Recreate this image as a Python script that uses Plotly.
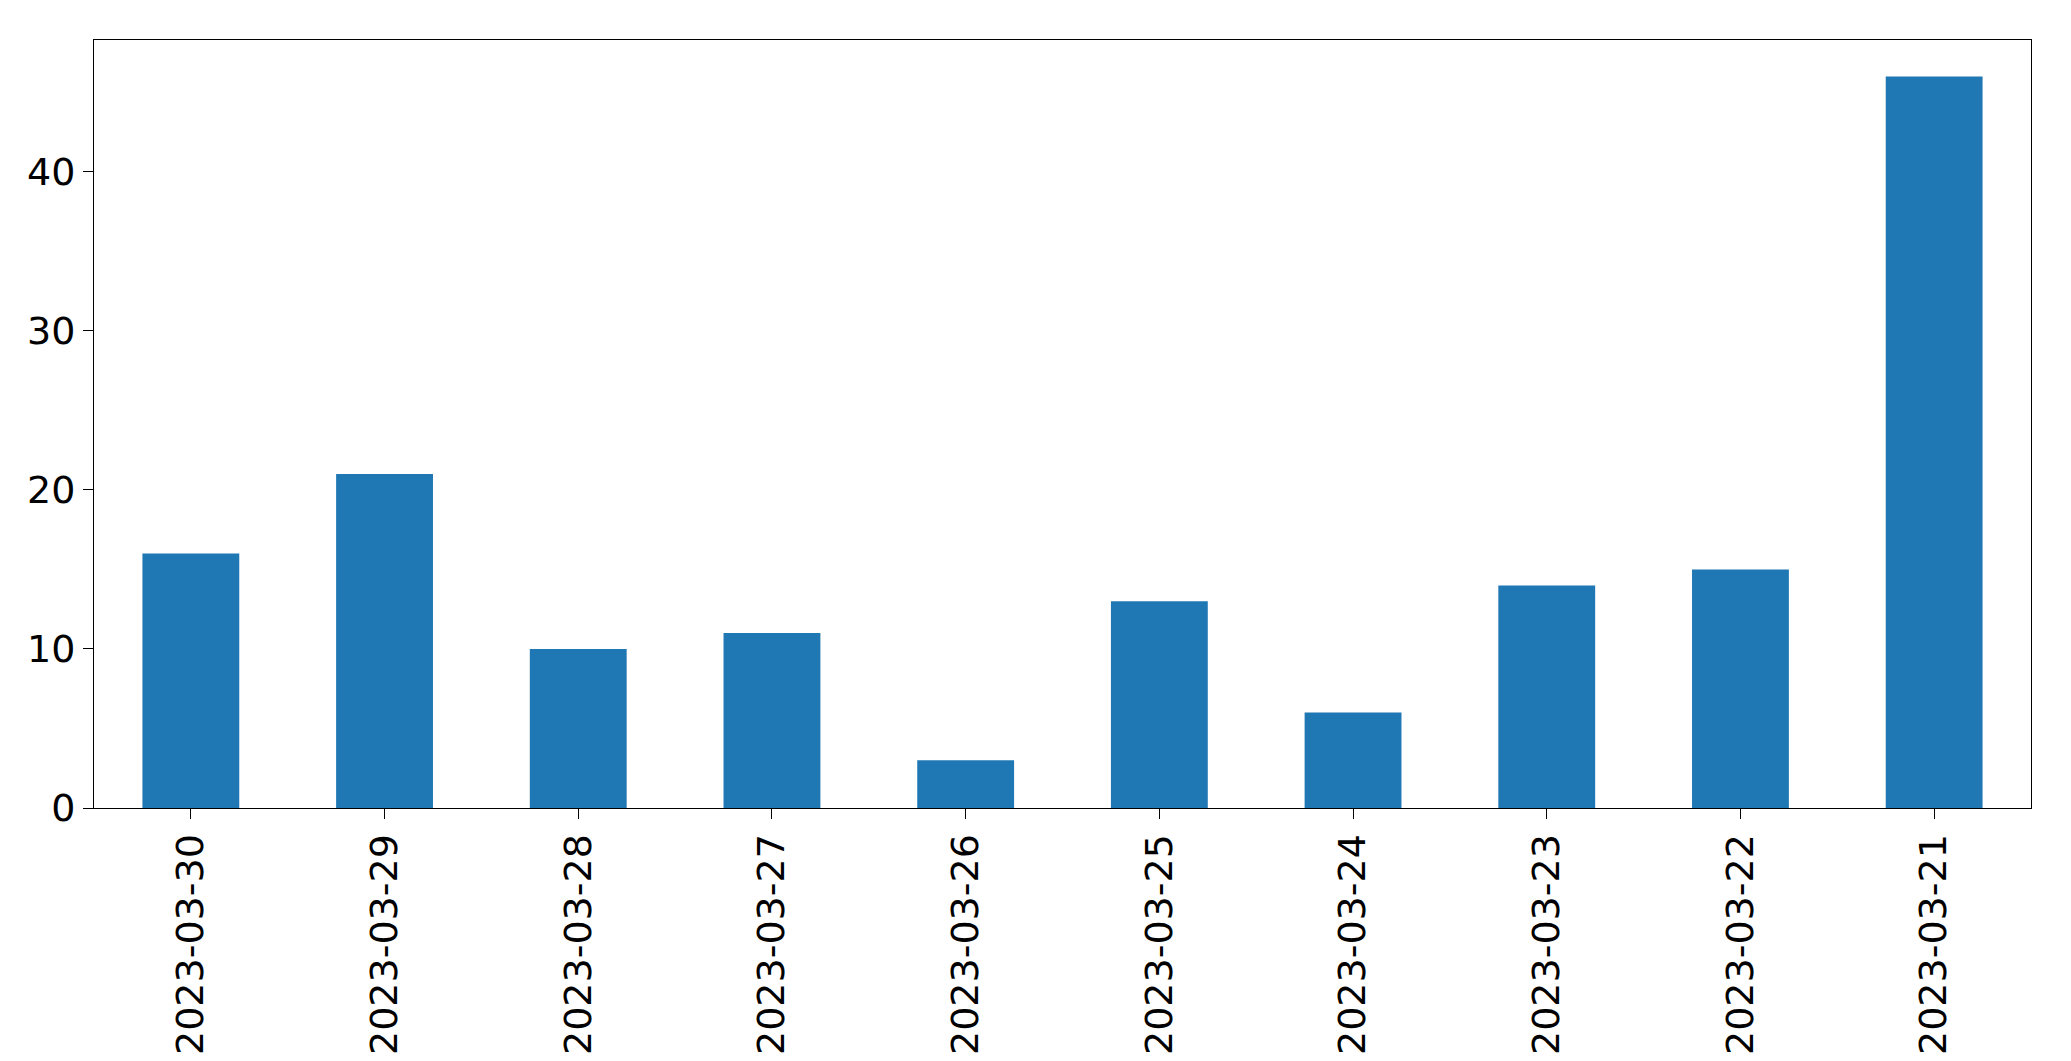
import plotly.graph_objects as go

dates = ["2023-03-30","2023-03-29","2023-03-28","2023-03-27","2023-03-26",
         "2023-03-25","2023-03-24","2023-03-23","2023-03-22","2023-03-21"]
counts = [16, 21, 10, 11, 3, 13, 6, 14, 15, 46]

fig = go.Figure(go.Bar(x=dates, y=counts, width=0.5, marker=dict(color="#1f77b4", line=dict(width=0))))
fig.update_layout(
    width=2071, height=1061, plot_bgcolor="white", paper_bgcolor="white",
    margin=dict(l=86, r=48, t=32, b=261, autoexpand=False),
    font=dict(family="DejaVu Sans", size=38, color="black"), showlegend=False,
)
fig.update_xaxes(type="category", range=[-0.5, 9.5], tickangle=-90, showline=True, linecolor="black",
                 mirror=True, ticks="outside", ticklen=10, tickcolor="black", showgrid=False)
fig.update_yaxes(range=[0, 48.3], tickvals=[0,10,20,30,40], showline=True, linecolor="black",
                 mirror=True, ticks="outside", ticklen=10, tickcolor="black", showgrid=False, zeroline=False)
fig.write_html("out.html")
